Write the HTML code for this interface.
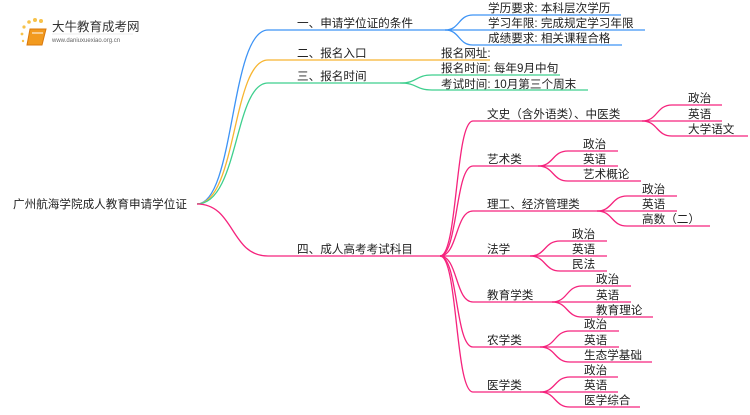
<!DOCTYPE html>
<html><head><meta charset="utf-8"><style>
body{margin:0;background:#fff;width:750px;height:410px;overflow:hidden}
svg text{font-family:"Liberation Sans","Noto Sans CJK SC",sans-serif;font-size:11.6px;fill:#222}
</style></head><body>
<svg width="750" height="410" viewBox="0 0 750 410" xmlns="http://www.w3.org/2000/svg" fill="none" stroke-width="1.3">
<g>
<circle cx="24" cy="27" r="1.6" fill="#f7c24a" stroke="none"/>
<circle cx="29" cy="22" r="1.8" fill="#f7c24a" stroke="none"/>
<circle cx="35" cy="20" r="2" fill="#f7c24a" stroke="none"/>
<circle cx="41" cy="21" r="2" fill="#f7c24a" stroke="none"/>
<circle cx="22" cy="34" r="1.4" fill="#f7c24a" stroke="none"/>
<circle cx="23" cy="41" r="1.2" fill="#f7c24a" stroke="none"/>
<path d="M30 29 L46 29 L42 45 L27 45 Z" fill="#f29a1e" stroke="#d9780c" stroke-width="1"/>
<path d="M32 33 L43 33" stroke="#fff" stroke-width="1"/>
<text x="52" y="31" style="font-size:12.5px;fill:#333">大牛教育成考网</text>
<text x="52" y="42" style="font-size:6px;fill:#666">www.daniuxuexiao.org.cn</text>
<path d="M52 34 L133 34" stroke="#ddd" stroke-width="0.6"/>
</g>
<text x="13" y="208">广州航海学院成人教育申请学位证</text>
<path d="M197 204 C235 204 230 30 268 30 L445 30" stroke="#3d93f5"/>
<path d="M197 204 C237 204 232 60 268 60 L490 60" stroke="#f7b530"/>
<path d="M197 204 C239 204 234 83 268 83 L400 83" stroke="#3ecf8e"/>
<path d="M197 204 C235 204 230 256 268 256 L440 256" stroke="#f5237d"/>
<text x="297" y="27">一、申请学位证的条件</text>
<text x="297" y="57">二、报名入口</text>
<text x="297" y="80">三、报名时间</text>
<text x="297" y="253">四、成人高考考试科目</text>
<g stroke="#3d93f5">
<path d="M445 30 C460 30 458 15 473 15 L621 15"/>
<path d="M445 30 L645 30"/>
<path d="M445 30 C460 30 458 45 473 45 L622 45"/>
</g>
<text x="488" y="12">学历要求: 本科层次学历</text>
<text x="488" y="27">学习年限: 完成规定学习年限</text>
<text x="488" y="42">成绩要求: 相关课程合格</text>
<text x="441" y="57">报名网址:</text>
<g stroke="#3ecf8e">
<path d="M400 83 C418 83 415 75 432 75 L560 75"/>
<path d="M400 83 C418 83 415 90 432 90 L588 90"/>
</g>
<text x="441" y="72">报名时间: 每年9月中旬</text>
<text x="441" y="88">考试时间: 10月第三个周末</text>
<g stroke="#f5237d">
<path d="M440 256 C458 256 455 121 473 121 L642 121"/>
<path d="M440 256 C458 256 455 166 473 166 L538 166"/>
<path d="M440 256 C458 256 455 211 473 211 L597 211"/>
<path d="M440 256 L530 256"/>
<path d="M440 256 C458 256 455 302 473 302 L552 302"/>
<path d="M440 256 C458 256 455 347 473 347 L540 347"/>
<path d="M440 256 C458 256 455 392 473 392 L540 392"/>
<path d="M642 121 C658 121 656 105 672 105 L722 105"/>
<path d="M642 121 L722 121"/>
<path d="M642 121 C658 121 656 136 672 136 L748 136"/>
<path d="M538 166 C554 166 552 151 568 151 L618 151"/>
<path d="M538 166 L618 166"/>
<path d="M538 166 C554 166 552 181 568 181 L641 181"/>
<path d="M597 211 C613 211 611 196 627 196 L677 196"/>
<path d="M597 211 L677 211"/>
<path d="M597 211 C613 211 611 226 627 226 L710 226"/>
<path d="M530 256 C546 256 544 241 560 241 L607 241"/>
<path d="M530 256 L607 256"/>
<path d="M530 256 C546 256 544 271 560 271 L607 271"/>
<path d="M552 302 C568 302 566 286 582 286 L631 286"/>
<path d="M552 302 L631 302"/>
<path d="M552 302 C568 302 566 317 582 317 L653 317"/>
<path d="M540 347 C556 347 554 331 570 331 L619 331"/>
<path d="M540 347 L619 347"/>
<path d="M540 347 C556 347 554 362 570 362 L652 362"/>
<path d="M540 392 C556 392 554 377 570 377 L618 377"/>
<path d="M540 392 L618 392"/>
<path d="M540 392 C556 392 554 407 570 407 L640 407"/>
</g>
<text x="487" y="118">文史（含外语类）、中医类</text>
<text x="487" y="163">艺术类</text>
<text x="487" y="208">理工、经济管理类</text>
<text x="487" y="253">法学</text>
<text x="487" y="299">教育学类</text>
<text x="487" y="344">农学类</text>
<text x="487" y="389">医学类</text>
<text x="688" y="102">政治</text><text x="688" y="118">英语</text><text x="688" y="133">大学语文</text>
<text x="583" y="148">政治</text><text x="583" y="163">英语</text><text x="583" y="178">艺术概论</text>
<text x="642" y="193">政治</text><text x="642" y="208">英语</text><text x="642" y="223">高数（二）</text>
<text x="572" y="238">政治</text><text x="572" y="253">英语</text><text x="572" y="268">民法</text>
<text x="596" y="283">政治</text><text x="596" y="299">英语</text><text x="596" y="314">教育理论</text>
<text x="584" y="328">政治</text><text x="584" y="344">英语</text><text x="584" y="359">生态学基础</text>
<text x="584" y="374">政治</text><text x="584" y="389">英语</text><text x="584" y="404">医学综合</text>
</svg>
</body></html>
